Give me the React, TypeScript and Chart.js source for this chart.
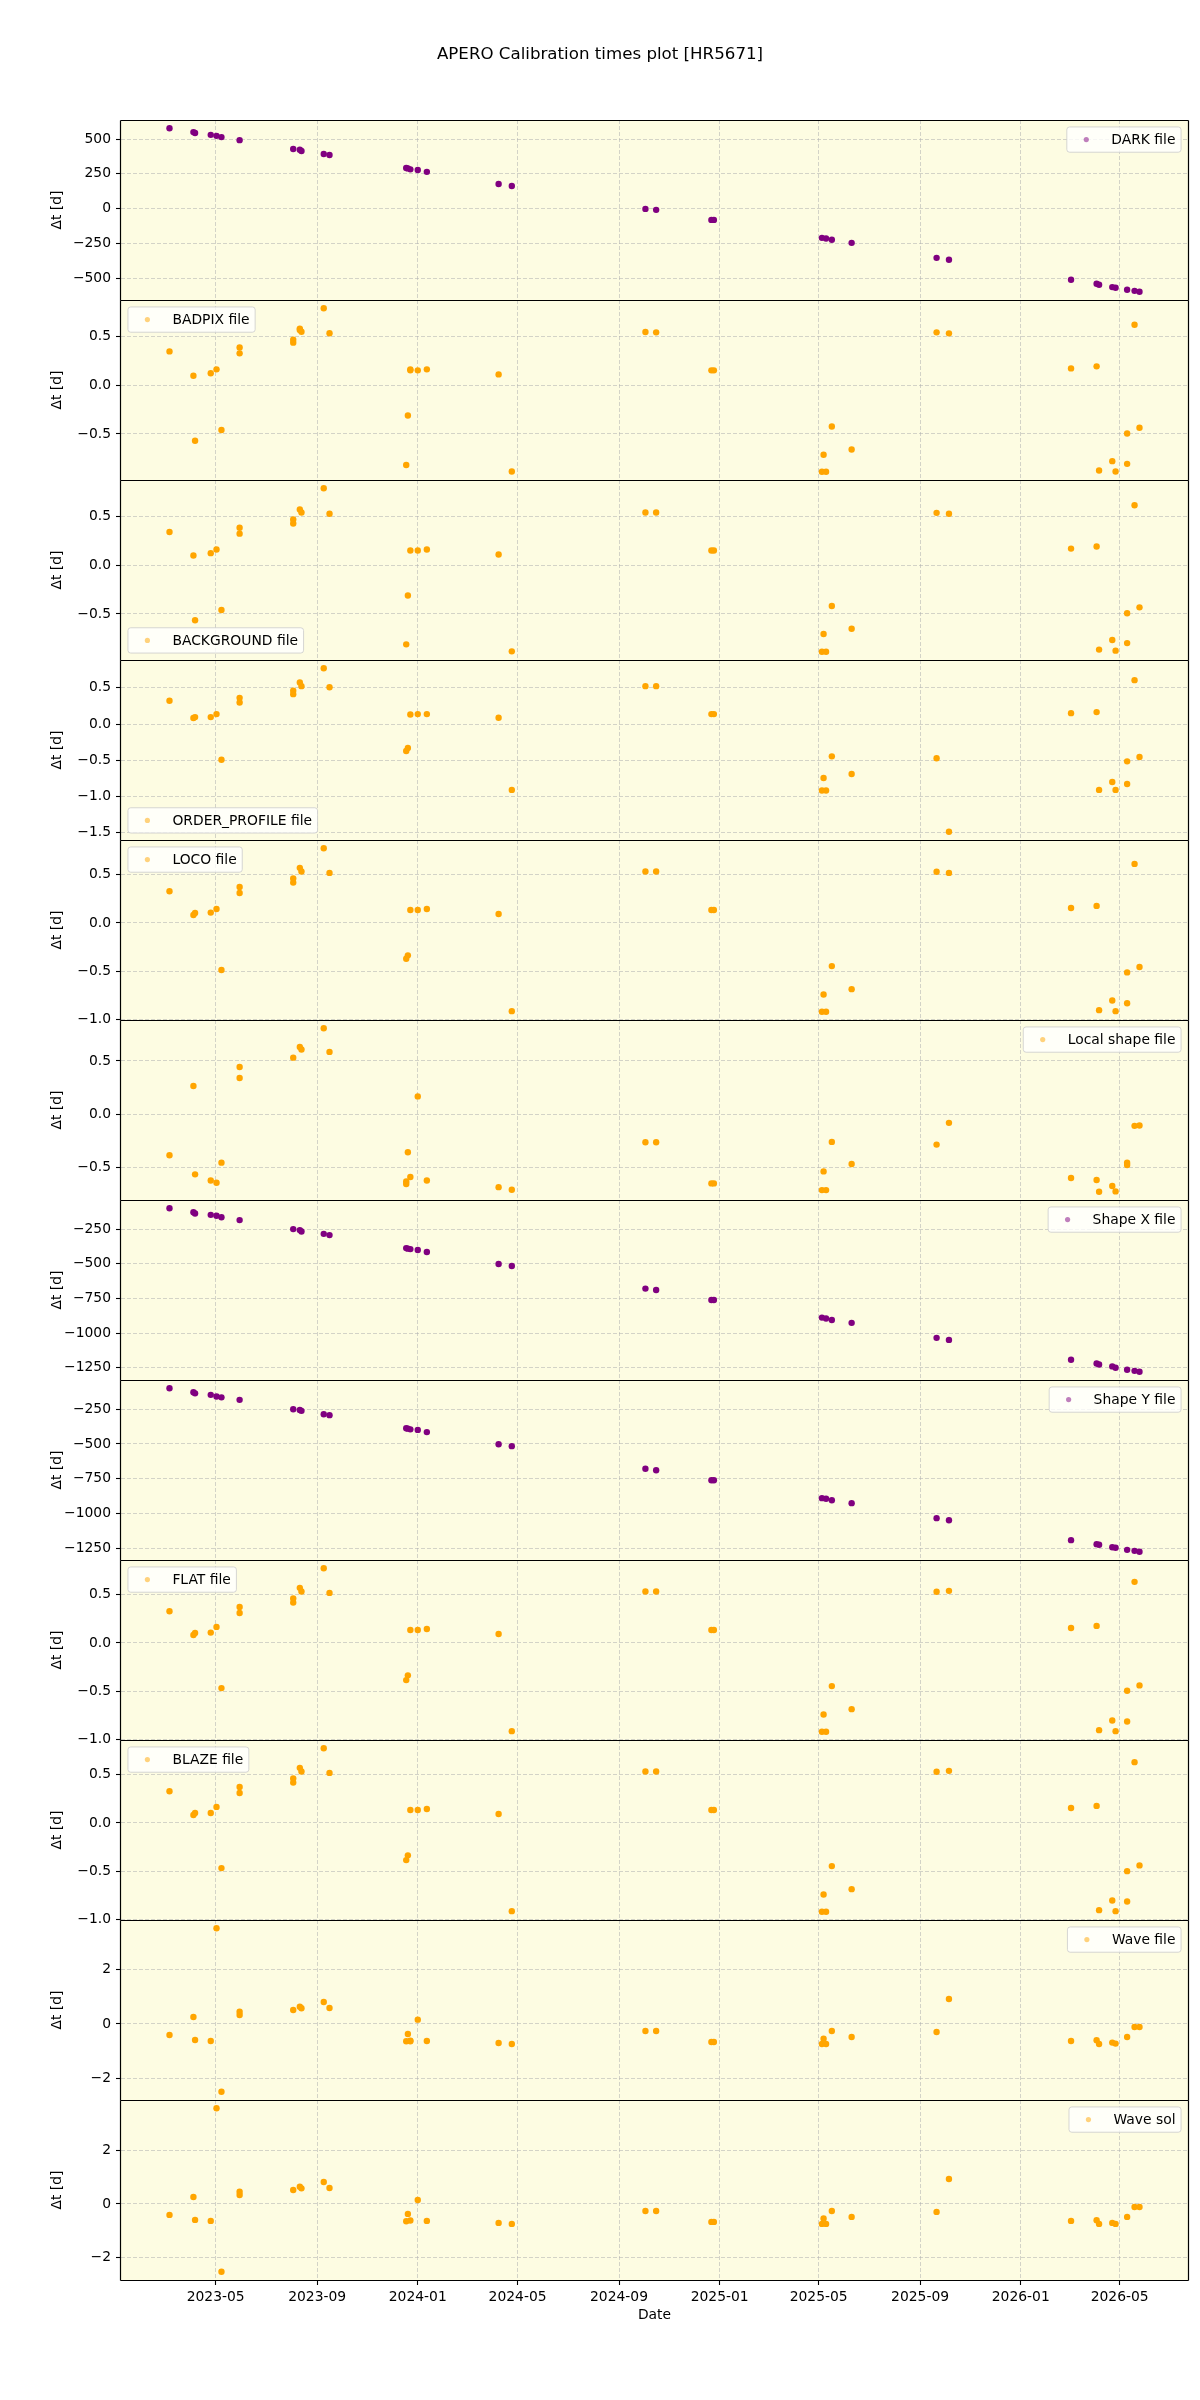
import React, { useEffect, useRef } from "react";
import { Chart, registerables } from "chart.js";

Chart.register(...registerables);

type Val = number | number[] | null;

// Observation dates (shared x positions)
const obsDates: string[] = [
  "2023-03-06", "2023-04-04", "2023-04-06", "2023-04-25", "2023-05-02", "2023-05-08",
  "2023-05-30", "2023-08-03", "2023-08-11", "2023-08-13", "2023-09-09", "2023-09-16",
  "2023-12-18", "2023-12-20", "2023-12-23", "2024-01-01", "2024-01-12", "2024-04-08",
  "2024-04-24", "2024-10-03", "2024-10-16", "2024-12-22", "2024-12-25", "2025-05-05",
  "2025-05-07", "2025-05-10", "2025-05-17", "2025-06-10", "2025-09-21", "2025-10-06",
  "2026-03-03", "2026-04-03", "2026-04-06", "2026-04-22", "2026-04-26", "2026-05-10",
  "2026-05-19", "2026-05-25",
];

const xTickLabels: string[] = [
  "2023-05", "2023-09", "2024-01", "2024-05", "2024-09",
  "2025-01", "2025-05", "2025-09", "2026-01", "2026-05",
];

const darkValues: Val[] = [
  578, 550, 543, 530, 523, 514, 492, 428, 423, 414, 392, 385, 292, 289, 282, 278, 264, 177,
  163, -2, -9, -81, -81, -210, null, -215, -224, -246, -354, -368, -511, -540, -547, -564,
  -569, -583, -591, -598,
];

const badpixValues: Val[] = [
  0.35, 0.10, -0.57, 0.125, 0.165, -0.46, [0.39, 0.33], [0.47, 0.44], [0.585, 0.57], 0.553,
  0.795, 0.537, -0.82, -0.31, [0.165, 0.155], 0.155, 0.165, 0.113, -0.887, 0.55, 0.546,
  0.155, 0.155, -0.89, -0.715, -0.89, -0.423, -0.66, 0.546, 0.536, 0.175, 0.196, -0.876,
  -0.78, -0.887, [-0.808, -0.495], 0.625, -0.436,
];

const backgroundValues: Val[] = [
  0.344, 0.102, -0.565, 0.126, 0.163, -0.459, [0.388, 0.327], [0.473, 0.432], 0.575, 0.544,
  0.795, 0.531, -0.813, -0.31, 0.153, 0.153, 0.163, 0.112, -0.885, 0.544, 0.544, 0.153,
  0.153, -0.89, -0.707, -0.89, -0.418, -0.653, 0.541, 0.531, 0.173, 0.194, -0.867, -0.769,
  -0.878, [-0.8, -0.493], 0.619, -0.432,
];

const orderProfileValues: Val[] = [
  0.321, 0.083, 0.096, 0.096, 0.138, -0.491, [0.362, 0.298], [0.459, 0.413], 0.573, 0.523,
  0.771, 0.509, -0.372, -0.33, 0.133, 0.138, 0.138, 0.087, -0.908, 0.523, 0.523, 0.138,
  0.138, -0.917, -0.743, -0.917, -0.445, -0.688, -0.472, -1.486, 0.151, 0.165, -0.908,
  -0.798, -0.908, [-0.826, -0.514], 0.606, -0.454,
];

const locoValues: Val[] = [
  0.328, 0.083, 0.103, 0.107, 0.145, -0.486, [0.372, 0.31], [0.459, 0.417], 0.569, 0.531,
  0.772, 0.517, -0.369, -0.334, 0.134, 0.134, 0.145, 0.093, -0.91, 0.531, 0.531, 0.134,
  0.134, -0.917, -0.738, -0.917, -0.445, -0.683, 0.528, 0.517, 0.155, 0.176, -0.9, -0.8,
  -0.91, [-0.828, -0.51], 0.61, -0.455,
];

const localShapeValues: Val[] = [
  -0.387, 0.264, -0.566, -0.623, -0.645, -0.456, [0.443, 0.34], 0.531, 0.632, 0.607, 0.808,
  0.585, [-0.632, -0.657], -0.358, -0.591, 0.167, -0.623, -0.686, -0.711, -0.264, -0.264,
  -0.651, -0.651, -0.714, -0.538, -0.714, -0.261, -0.469, -0.286, -0.082, -0.6, -0.619,
  -0.73, -0.676, -0.726, [-0.456, -0.478], -0.11, -0.107,
];

const shapeXValues: Val[] = [
  -99, -128, -137, -147, -154, -164, -185, -250, -257, -267, -284, -293, -387, -391, -394,
  -401, -415, -502, -516, -679, -689, -761, -761, -888, null, -895, -905, -926, -1034,
  -1049, -1192, -1219, -1226, -1240, -1250, -1264, -1272, -1279,
];

const shapeYValues: Val[] = [
  -99, -128, -136, -147, -159, -165, -183, -250, -256, -262, -286, -293, -387, -390, -395,
  -399, -415, -502, -516, -679, -689, -761, -761, -890, null, -894, -905, -926, -1034,
  -1049, -1192, -1221, -1225, -1243, -1247, -1262, -1269, -1276,
];

const flatValues: Val[] = [
  0.328, 0.083, 0.103, 0.107, 0.166, -0.466, [0.372, 0.31], [0.459, 0.417], 0.569, 0.531,
  0.772, 0.517, -0.383, -0.334, 0.134, 0.134, 0.145, 0.093, -0.91, 0.531, 0.531, 0.134,
  0.134, -0.917, -0.738, -0.917, -0.445, -0.683, 0.528, 0.538, 0.155, 0.176, -0.9, -0.8,
  -0.91, [-0.81, -0.493], 0.631, -0.438,
];

const blazeValues: Val[] = [
  0.328, 0.083, 0.103, 0.103, 0.166, -0.466, [0.372, 0.31], [0.459, 0.417], 0.569, 0.531,
  0.772, 0.517, -0.383, -0.334, 0.134, 0.134, 0.145, 0.093, -0.91, 0.531, 0.531, 0.134,
  0.134, -0.917, -0.738, -0.917, -0.445, -0.683, 0.528, 0.538, 0.155, 0.176, -0.9, -0.8,
  -0.91, [-0.81, -0.497], 0.628, -0.438,
];

const waveFileValues: Val[] = [
  -0.405, 0.258, -0.589, -0.626, 3.53, -2.5, [0.454, 0.331], 0.515, 0.638, 0.577, 0.81,
  0.589, -0.638, -0.368, [-0.613, -0.638], 0.16, -0.626, -0.7, -0.736, -0.258, -0.258,
  -0.663, -0.663, -0.736, -0.54, -0.736, -0.258, -0.479, -0.294, 0.92, -0.626, -0.6,
  -0.736, -0.687, -0.724, -0.479, -0.11, -0.11,
];

const waveSolValues: Val[] = [
  -0.407, 0.259, -0.593, -0.63, 3.556, -2.52, [0.457, 0.333], 0.519, 0.642, 0.58, 0.815,
  0.593, -0.642, -0.37, -0.617, 0.148, -0.63, -0.704, -0.741, -0.259, -0.259, -0.667,
  -0.667, -0.741, -0.543, -0.741, -0.259, -0.481, -0.296, 0.926, -0.63, -0.605, -0.741,
  -0.704, -0.741, -0.481, -0.111, -0.111,
];

const PURPLE = "#800080";
const ORANGE = "#FFA500";

type LegendPos = "upper right" | "upper left" | "lower left";

interface PanelCfg {
  label: string;
  color: string;
  values: Val[];
  step: number;
  decimals: number;
  legend: LegendPos;
}

const panels: PanelCfg[] = [
  { label: "DARK file", color: PURPLE, values: darkValues, step: 250, decimals: 0, legend: "upper right" },
  { label: "BADPIX file", color: ORANGE, values: badpixValues, step: 0.5, decimals: 1, legend: "upper left" },
  { label: "BACKGROUND file", color: ORANGE, values: backgroundValues, step: 0.5, decimals: 1, legend: "lower left" },
  { label: "ORDER_PROFILE file", color: ORANGE, values: orderProfileValues, step: 0.5, decimals: 1, legend: "lower left" },
  { label: "LOCO file", color: ORANGE, values: locoValues, step: 0.5, decimals: 1, legend: "upper left" },
  { label: "Local shape file", color: ORANGE, values: localShapeValues, step: 0.5, decimals: 1, legend: "upper right" },
  { label: "Shape X file", color: PURPLE, values: shapeXValues, step: 250, decimals: 0, legend: "upper right" },
  { label: "Shape Y file", color: PURPLE, values: shapeYValues, step: 250, decimals: 0, legend: "upper right" },
  { label: "FLAT file", color: ORANGE, values: flatValues, step: 0.5, decimals: 1, legend: "upper left" },
  { label: "BLAZE file", color: ORANGE, values: blazeValues, step: 0.5, decimals: 1, legend: "upper left" },
  { label: "Wave file", color: ORANGE, values: waveFileValues, step: 2, decimals: 0, legend: "upper right" },
  { label: "Wave sol", color: ORANGE, values: waveSolValues, step: 2, decimals: 0, legend: "upper right" },
];

const TITLE = "APERO Calibration times plot [HR5671]";
const Y_LABEL = "\u0394t [d]";
const X_LABEL = "Date";

const FONT = '"DejaVu Sans", "Liberation Sans", sans-serif';
const FS = 13.89;
const BG = "#FDFCE2";
const GRID = "rgba(176,176,176,0.55)";

const FIG_W = 1200;
const FIG_H = 2400;
const PANEL_TOP = 120;
const PANEL_H = 180;
const AX_LEFT = 121;
const AX_RIGHT = 1188;
const MARGIN = 14;

const toMs = (s: string): number => {
  const parts = s.split("-").map(Number);
  return Date.UTC(parts[0], parts[1] - 1, parts[2] || 1);
};

const xs = obsDates.map(toMs);
const xDataMin = Math.min(...xs);
const xDataMax = Math.max(...xs);
const xPad = (xDataMax - xDataMin) * 0.05;
const X_MIN = xDataMin - xPad;
const X_MAX = xDataMax + xPad;
const xTickValues = xTickLabels.map(toMs);

const fmtMinus = (s: string) => s.replace("-", "\u2212");

function buildPoints(values: Val[]) {
  const pts: { x: number; y: number }[] = [];
  values.forEach((v, i) => {
    if (v === null) return;
    const arr = Array.isArray(v) ? v : [v];
    arr.forEach((y) => pts.push({ x: xs[i], y }));
  });
  return pts;
}

function drawLegend(ctx: CanvasRenderingContext2D, a: any, label: string, color: string, pos: LegendPos) {
  ctx.save();
  ctx.font = `${FS}px ${FONT}`;
  const tw = ctx.measureText(label).width;
  const pad = 0.4 * FS;
  const hl = 2 * FS;
  const htp = 0.8 * FS;
  const bap = 0.5 * FS;
  const w = 2 * pad + hl + htp + tw;
  const h = 2 * pad + FS * 1.02;
  const x = pos === "upper right" ? a.right - bap - w : a.left + bap;
  const y = pos === "lower left" ? a.bottom - bap - h : a.top + bap;
  ctx.beginPath();
  (ctx as any).roundRect(x, y, w, h, 0.2 * FS);
  ctx.fillStyle = "rgba(255,255,255,0.8)";
  ctx.fill();
  ctx.strokeStyle = "rgba(204,204,204,0.8)";
  ctx.lineWidth = 1;
  ctx.stroke();
  ctx.globalAlpha = 0.5;
  ctx.beginPath();
  ctx.arc(x + pad + hl / 2, y + h / 2, 2.6, 0, Math.PI * 2);
  ctx.fillStyle = color;
  ctx.fill();
  ctx.globalAlpha = 1;
  ctx.fillStyle = "#000";
  ctx.textAlign = "left";
  ctx.textBaseline = "middle";
  ctx.fillText(label, x + pad + hl + htp, y + h / 2 + 0.5);
  ctx.restore();
}

function Panel({ index }: { index: number }) {
  const ref = useRef<HTMLCanvasElement>(null);
  const p = panels[index];
  const isFirst = index === 0;
  const isLast = index === panels.length - 1;
  const chartTop = PANEL_TOP + PANEL_H * index;
  const chartBottom = chartTop + PANEL_H;
  const canvasTop = isFirst ? 0 : chartTop - MARGIN;
  const canvasBottom = isLast ? FIG_H : chartBottom + MARGIN;
  const h = canvasBottom - canvasTop;

  useEffect(() => {
    const pts = buildPoints(p.values);
    const ys = pts.map((q) => q.y);
    const yMinD = Math.min(...ys);
    const yMaxD = Math.max(...ys);
    const yPad = (yMaxD - yMinD) * 0.05;
    const yMin = yMinD - yPad;
    const yMax = yMaxD + yPad;
    const yTicks: number[] = [];
    for (let k = Math.ceil(yMin / p.step - 1e-9); k * p.step <= yMax + 1e-9; k++) yTicks.push(k * p.step);

    const decor = {
      id: "decor" + index,
      beforeDraw(chart: any) {
        const { ctx, chartArea: a } = chart;
        ctx.save();
        ctx.fillStyle = BG;
        ctx.fillRect(a.left, a.top, a.right - a.left, a.bottom - a.top);
        ctx.restore();
      },
      afterDraw(chart: any) {
        const { ctx, chartArea: a } = chart;
        const L = Math.round(a.left) - 0.5;
        const R = Math.round(a.right) + 0.5;
        const T = Math.round(a.top) + 0.5;
        const B = Math.round(a.bottom) + 0.5;
        ctx.save();
        ctx.strokeStyle = "#000";
        ctx.lineWidth = 1.2;
        ctx.beginPath();
        ctx.moveTo(L, T);
        ctx.lineTo(R, T);
        ctx.moveTo(L, T);
        ctx.lineTo(L, B);
        ctx.moveTo(R, T);
        ctx.lineTo(R, B);
        if (isLast) {
          ctx.moveTo(L, B);
          ctx.lineTo(R, B);
        }
        ctx.stroke();
        ctx.restore();

        drawLegend(ctx, a, p.label, p.color, p.legend);

        ctx.save();
        ctx.fillStyle = "#000";
        ctx.font = `${FS}px ${FONT}`;
        ctx.translate(57.5, (a.top + a.bottom) / 2);
        ctx.rotate(-Math.PI / 2);
        ctx.textAlign = "center";
        ctx.textBaseline = "middle";
        ctx.fillText(Y_LABEL, 0, 0);
        ctx.restore();

        if (isFirst) {
          ctx.save();
          ctx.fillStyle = "#000";
          ctx.font = `16.67px ${FONT}`;
          ctx.textAlign = "center";
          ctx.textBaseline = "middle";
          ctx.fillText(TITLE, FIG_W / 2, 55);
          ctx.restore();
        }
        if (isLast) {
          ctx.save();
          ctx.fillStyle = "#000";
          ctx.font = `${FS}px ${FONT}`;
          ctx.textAlign = "center";
          ctx.textBaseline = "middle";
          ctx.fillText(X_LABEL, (a.left + a.right) / 2, 2315 - canvasTop);
          ctx.restore();
        }
      },
    };

    const chart = new Chart(ref.current as HTMLCanvasElement, {
      type: "scatter",
      data: {
        datasets: [
          {
            label: p.label,
            data: pts,
            backgroundColor: p.color,
            borderColor: p.color,
            pointRadius: 3.2,
            pointBorderWidth: 0,
            pointHoverRadius: 3.2,
          },
        ],
      },
      options: {
        responsive: false,
        maintainAspectRatio: false,
        animation: false,
        devicePixelRatio: 1,
        events: [],
        layout: { padding: { left: 0, right: FIG_W - AX_RIGHT, top: chartTop - canvasTop, bottom: 0 } },
        plugins: { legend: { display: false }, tooltip: { enabled: false }, title: { display: false } },
        scales: {
          x: {
            type: "linear",
            position: "bottom",
            min: X_MIN,
            max: X_MAX,
            afterBuildTicks: (s: any) => {
              s.ticks = xTickValues.map((v) => ({ value: v }));
            },
            afterFit: (s: any) => {
              s.height = canvasBottom - chartBottom;
            },
            ticks: {
              display: isLast,
              autoSkip: false,
              maxRotation: 0,
              minRotation: 0,
              padding: 4,
              color: "#000",
              font: { family: FONT, size: FS },
              callback: (v: any) => {
                const d = new Date(Number(v));
                return d.getUTCFullYear() + "-" + String(d.getUTCMonth() + 1).padStart(2, "0");
              },
            },
            grid: {
              color: GRID,
              lineWidth: 1,
              drawTicks: isLast,
              tickLength: 5,
              tickColor: "#000",
              tickWidth: 1.1,
              tickBorderDash: [],
            },
            border: { display: false, dash: [4, 2] },
          },
          y: {
            type: "linear",
            min: yMin,
            max: yMax,
            afterBuildTicks: (s: any) => {
              s.ticks = yTicks.map((v) => ({ value: v }));
            },
            afterFit: (s: any) => {
              s.width = AX_LEFT;
            },
            ticks: {
              padding: 5,
              color: "#000",
              font: { family: FONT, size: FS },
              callback: (v: any) => {
                const n = Math.abs(Number(v)) < 1e-9 ? 0 : Number(v);
                return fmtMinus(n.toFixed(p.decimals));
              },
            },
            grid: {
              color: GRID,
              lineWidth: 1,
              drawTicks: true,
              tickLength: 5,
              tickColor: "#000",
              tickWidth: 1.1,
              tickBorderDash: [],
            },
            border: { display: false, dash: [4, 2] },
          },
        },
      } as any,
      plugins: [decor],
    });
    return () => chart.destroy();
  }, []);

  return (
    <canvas
      ref={ref}
      width={FIG_W}
      height={h}
      style={{ position: "absolute", left: 0, top: canvasTop, width: FIG_W, height: h }}
    />
  );
}

export default function App() {
  return (
    <div style={{ position: "absolute", left: 0, top: 0, width: FIG_W, height: FIG_H, background: "#fff" }}>
      {panels.map((_, i) => (
        <Panel key={i} index={i} />
      ))}
    </div>
  );
}
